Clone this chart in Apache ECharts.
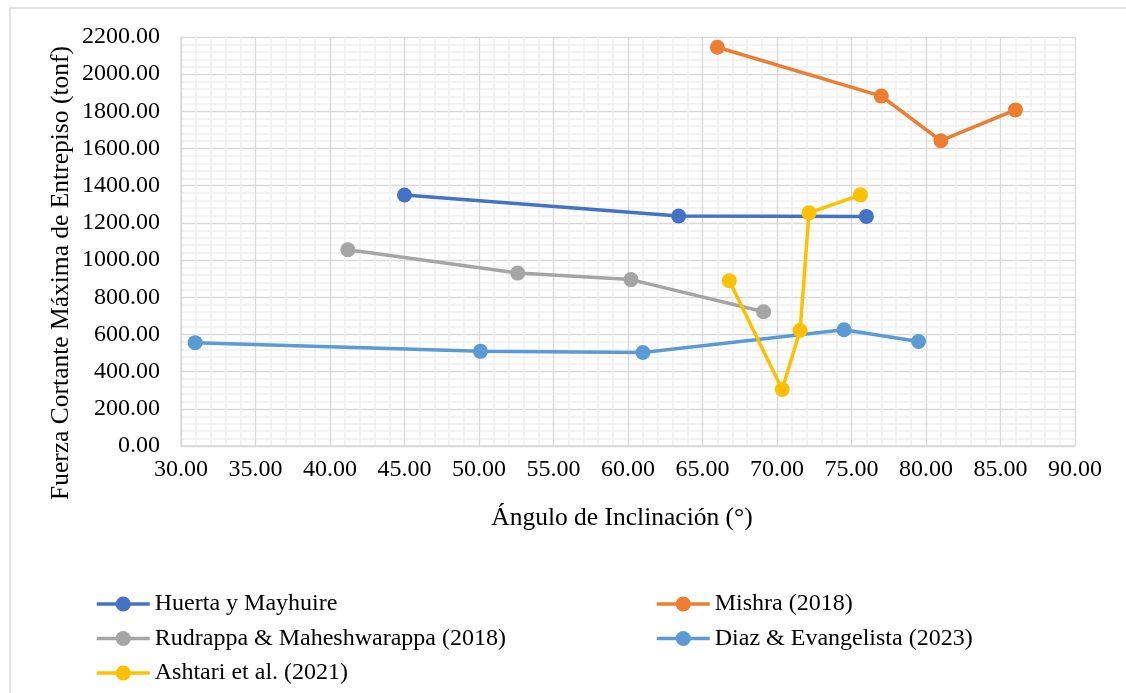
<!DOCTYPE html>
<html>
<head>
<meta charset="utf-8">
<script src="https://cdn.jsdelivr.net/npm/echarts@6/dist/echarts.min.js"></script>
<style>
  html, body { margin: 0; padding: 0; background: #ffffff; }
  #chart { width: 1126px; height: 693px; }
</style>
</head>
<body>
<div id="chart"></div>
<script>
// Ángulo de inclinación (°) y fuerza cortante máxima (tonf) por estudio
const huertaAngles = [45.0, 63.4, 76.0];
const huertaForces = [1350, 1237, 1235];

const mishraAngles = [66.0, 77.0, 81.0, 86.0];
const mishraForces = [2145, 1882, 1642, 1808];

const rudrappaAngles = [41.2, 52.6, 60.2, 69.1];
const rudrappaForces = [1056, 930, 895, 722];

const diazAngles = [30.95, 50.1, 61.0, 74.5, 79.5];
const diazForces = [556, 509, 503, 625, 562];

const ashtariAngles = [66.8, 70.35, 71.55, 72.15, 75.6];
const ashtariForces = [889, 304, 622, 1254, 1351];

const seriesNames = [
  'Huerta y Mayhuire',
  'Mishra (2018)',
  'Rudrappa & Maheshwarappa (2018)',
  'Diaz & Evangelista (2023)',
  'Ashtari et al. (2021)'
];
const seriesColors = ['#4472C4', '#ED7D31', '#A5A5A5', '#5B9BD5', '#FFC000'];

const xTitle = 'Ángulo de Inclinación (°)';
const yTitle = 'Fuerza Cortante Máxima de Entrepiso (tonf)';

const FONT = '"Liberation Serif", "Times New Roman", serif';

function pairs(xs, ys) {
  return xs.map((x, i) => [x, ys[i]]);
}

const allData = [
  pairs(huertaAngles, huertaForces),
  pairs(mishraAngles, mishraForces),
  pairs(rudrappaAngles, rudrappaForces),
  pairs(diazAngles, diazForces),
  pairs(ashtariAngles, ashtariForces)
];

const chart = echarts.init(document.getElementById('chart'), null, { renderer: 'canvas' });

const legendCommon = {
  orient: 'vertical',
  top: 587,
  itemWidth: 53,
  itemHeight: 19,
  itemGap: 10.5,
  itemTextGap: 5,
  selectedMode: false,
  lineStyle: { width: 3.5 },
  textStyle: { fontFamily: FONT, fontSize: 24, color: '#000000', lineHeight: 24 }
};

chart.setOption({
  animation: false,
  backgroundColor: '#ffffff',
  color: seriesColors,
  grid: { left: 181, right: 51, top: 37, bottom: 247, containLabel: false },
  legend: [
    Object.assign({ left: 90, data: [seriesNames[0], seriesNames[2], seriesNames[4]] }, legendCommon),
    Object.assign({ left: 650, data: [seriesNames[1], seriesNames[3]] }, legendCommon)
  ],
  xAxis: {
    type: 'value',
    min: 30,
    max: 90,
    interval: 5,
    axisLine: { show: true, lineStyle: { color: '#d9d9d9', width: 1.5 } },
    axisTick: { show: false },
    axisLabel: {
      margin: 12,
      fontFamily: FONT, fontSize: 24, color: '#000000',
      formatter: v => v.toFixed(2)
    },
    splitLine: { show: true, lineStyle: { color: '#d9d9d9', width: 1.3 } },
    minorTick: { show: false, splitNumber: 5 },
    minorSplitLine: { show: true, lineStyle: { color: '#efefef', width: 1.5 } }
  },
  yAxis: {
    type: 'value',
    min: 0,
    max: 2200,
    interval: 200,
    axisLine: { show: true, lineStyle: { color: '#d9d9d9', width: 1.5 } },
    axisTick: { show: false },
    axisLabel: {
      margin: 21,
      fontFamily: FONT, fontSize: 24, color: '#000000',
      formatter: v => v.toFixed(2)
    },
    splitLine: { show: true, lineStyle: { color: '#d9d9d9', width: 1.3 } },
    minorTick: { show: false, splitNumber: 5 },
    minorSplitLine: { show: true, lineStyle: { color: '#efefef', width: 1.5 } }
  },
  graphic: [
    {
      type: 'rect',
      shape: { x: 10, y: 8, width: 1140, height: 720 },
      style: { fill: null, stroke: '#d9d9d9', lineWidth: 1.5 },
      silent: true,
      z: -10
    },
    {
      type: 'text',
      x: 622, y: 518,
      style: {
        text: xTitle, fontFamily: FONT, fontSize: 25.5, fill: '#000000',
        textAlign: 'center', textVerticalAlign: 'middle'
      }
    },
    {
      type: 'text',
      x: 61, y: 273,
      rotation: Math.PI / 2,
      style: {
        text: yTitle, fontFamily: FONT, fontSize: 25.5, fill: '#000000',
        textAlign: 'center', textVerticalAlign: 'middle'
      }
    }
  ],
  series: allData.map((d, i) => ({
    name: seriesNames[i],
    type: 'line',
    data: d,
    symbol: 'circle',
    symbolSize: 15,
    lineStyle: { width: 3.5, color: seriesColors[i] },
    itemStyle: { color: seriesColors[i] },
    z: 2 + i
  }))
});
</script>
</body>
</html>
